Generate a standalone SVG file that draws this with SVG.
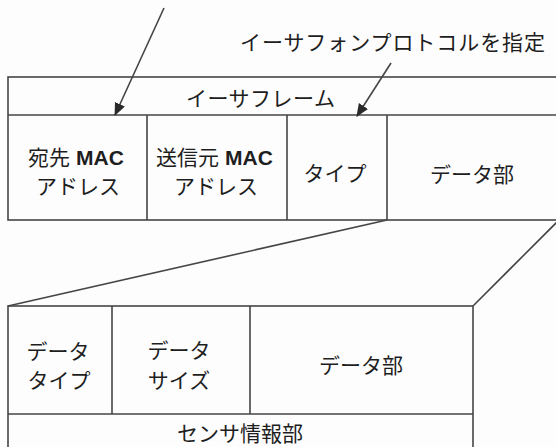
<svg xmlns="http://www.w3.org/2000/svg" width="556" height="447" viewBox="0 0 556 447">
<style>
.box{fill:none;stroke:#454545;stroke-width:1.6}
.ln{fill:none;stroke:#454545;stroke-width:1.6}
.t{font-family:"Noto Sans CJK JP","Noto Sans",sans-serif;font-size:21px;fill:#1e1e1e;text-anchor:middle}
.s{text-anchor:start}
.m{font-family:"Liberation Sans",Arial,sans-serif;font-weight:bold;font-size:21px;fill:#1e1e1e}
</style>
<defs>
<marker id="ah" viewBox="0 0 12 10" refX="11" refY="5" markerWidth="13" markerHeight="11" markerUnits="userSpaceOnUse" orient="auto">
<path d="M0,0 L12,5 L0,10 Z" fill="#2a2a2a"/>
</marker>
</defs>
<rect width="556" height="447" fill="#fdfdfd"/>
<g id="label-protocol">
<text class="t s" x="240" y="50" textLength="305" lengthAdjust="spacing">イーサフォンプロトコルを指定</text>
</g>
<g id="ether-frame">
<rect class="box" x="8" y="77" width="560" height="143"/>
<line class="ln" x1="8" y1="115" x2="560" y2="115"/>
<text class="t s" x="186" y="106" textLength="149" lengthAdjust="spacing">イーサフレーム</text>
</g>
<g id="dst-mac">
<line class="ln" x1="147" y1="115" x2="147" y2="220"/>
<text class="t s" x="28" y="165">宛先</text>
<text class="m" x="76" y="165">MAC</text>
<text class="t" x="78" y="194">アドレス</text>
</g>
<g id="src-mac">
<line class="ln" x1="287" y1="115" x2="287" y2="220"/>
<text class="t s" x="156" y="165">送信元</text>
<text class="m" x="225" y="165">MAC</text>
<text class="t" x="216" y="194">アドレス</text>
</g>
<g id="type">
<line class="ln" x1="387" y1="115" x2="387" y2="220"/>
<text class="t" x="335" y="181">タイプ</text>
</g>
<g id="data">
<text class="t" x="472" y="182">データ部</text>
</g>
<g id="sensor-frame">
<rect class="box" x="8" y="306" width="465" height="160"/>
<line class="ln" x1="8" y1="414" x2="473" y2="414"/>
<text class="t" x="240" y="441">センサ情報部</text>
</g>
<g id="data-type">
<line class="ln" x1="112" y1="306" x2="112" y2="414"/>
<text class="t" x="58" y="359">データ</text>
<text class="t" x="59" y="388">タイプ</text>
</g>
<g id="data-size">
<line class="ln" x1="250" y1="306" x2="250" y2="414"/>
<text class="t" x="179" y="358">データ</text>
<text class="t" x="179" y="388">サイズ</text>
</g>
<g id="sensor-data">
<text class="t" x="361" y="373">データ部</text>
</g>
<g id="connectors">
<line class="ln" x1="164" y1="8" x2="115" y2="115" marker-end="url(#ah)"/>
<line class="ln" x1="391" y1="63" x2="357" y2="116" marker-end="url(#ah)"/>
<line class="ln" x1="387" y1="220" x2="8" y2="306"/>
<line class="ln" x1="560" y1="219" x2="473" y2="306"/>
</g>
</svg>
